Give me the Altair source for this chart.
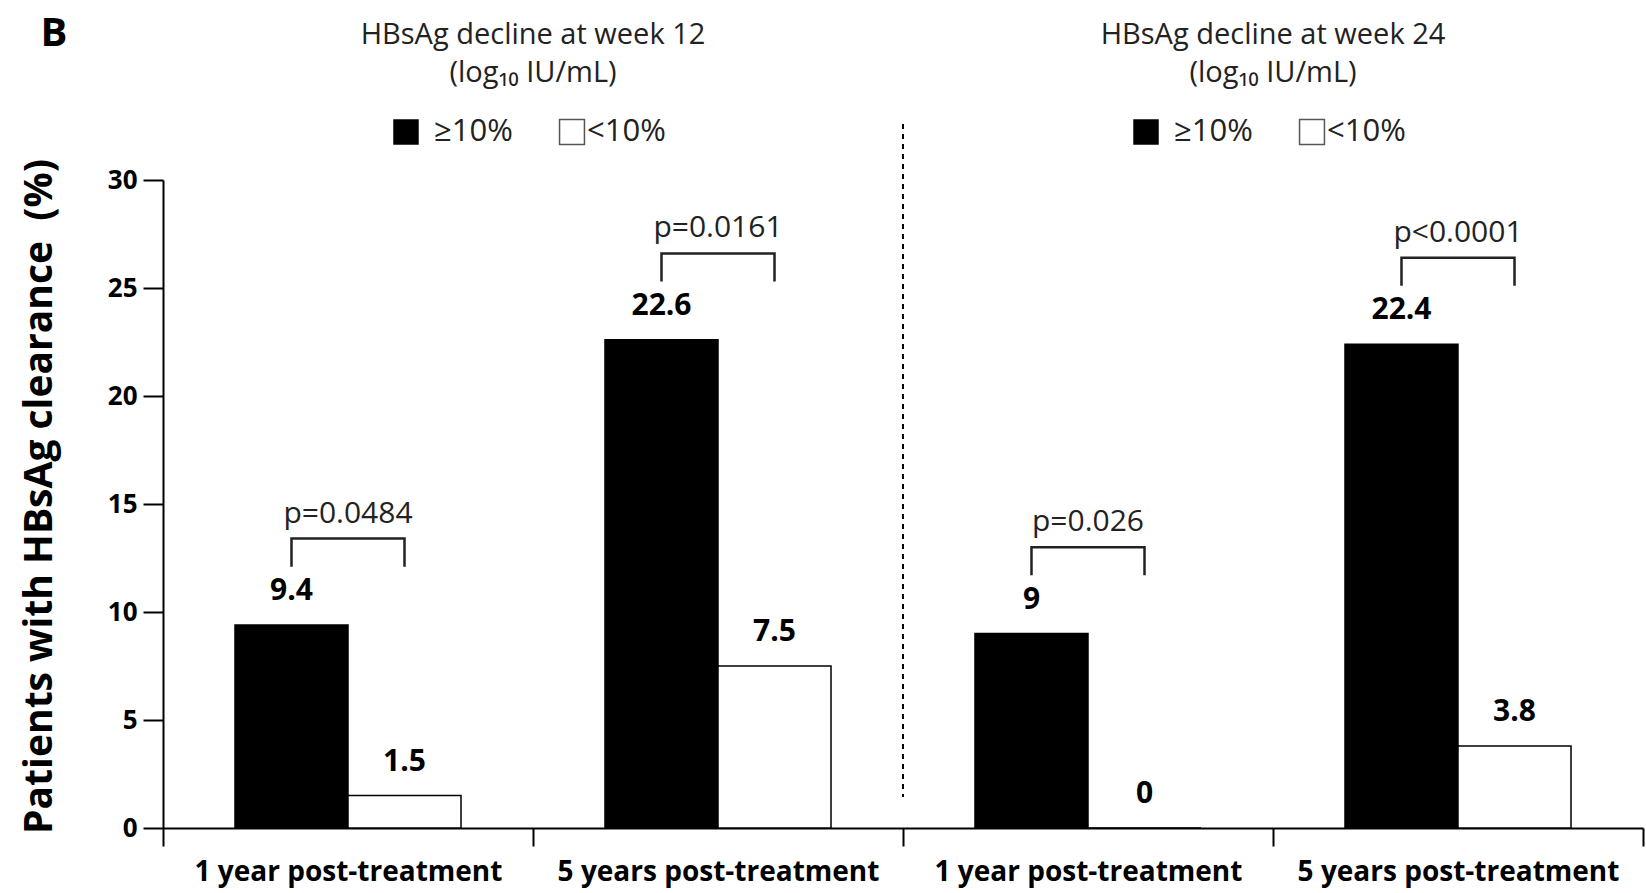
import altair as alt
import pandas as pd

# Patients with HBsAg clearance (%) by on-treatment HBsAg decline
panel_letter = "B"
weeks = ["12", "12", "24", "24"]
periods = [
    "1 year post-treatment",
    "5 years post-treatment",
    "1 year post-treatment",
    "5 years post-treatment",
]
high_pct = [9.4, 22.6, 9, 22.4]   # decline >= 10%
low_pct = [1.5, 7.5, 0, 3.8]      # decline < 10%
p_values = ["p=0.0484", "p=0.0161", "p=0.026", "p<0.0001"]
series = ["≥10%", "<10%"]
header_line1 = ["HBsAg decline at week 12", "HBsAg decline at week 24"]
header_line2 = "(log₁₀ IU/mL)"
y_ticks = [0, 5, 10, 15, 20, 25, 30]

FONT = "Open Sans"

# unique category keys: "<week>|<period>"
keys = [f"{w}|{p}" for w, p in zip(weeks, periods)]

bars = pd.DataFrame(
    [
        {"key": k, "series": s, "pct": v, "label": f"{v:g}"}
        for k, h, l in zip(keys, high_pct, low_pct)
        for s, v in zip(series, (h, l))
    ]
)

# significance brackets joining the two bars of each group
bracket_rows, ptext_rows = [], []
for k, h, l, p in zip(keys, high_pct, low_pct, p_values):
    top = max(h, l) + 4.0
    leg = max(h, l) + 2.7
    pts = [(series[0], leg), (series[0], top), (series[1], top), (series[1], leg)]
    for i, (s, yv) in enumerate(pts):
        bracket_rows.append({"key": k, "series": s, "y": yv, "step": i})
    ptext_rows.append({"key": k, "p": p, "top": top})
brackets = pd.DataFrame(bracket_rows)
ptexts = pd.DataFrame(ptext_rows)

# headers sit on the boundary between the two groups of each week
header_keys = [k for k, p in zip(keys, periods) if p.startswith("5")]
headers = pd.DataFrame(
    {"key": header_keys, "line1": header_line1, "line2": [header_line2] * len(header_keys)}
)
divider = pd.DataFrame({"key": [keys[2]]})

x_scale = alt.Scale(domain=keys, paddingInner=0, paddingOuter=0)
xoff_scale = alt.Scale(domain=series, paddingInner=0, paddingOuter=0.637)

x_axis = alt.Axis(
    title=None,
    labelExpr="split(datum.label, '|')[1]",
    labelAngle=0,
    labelLimit=600,
    labelFont=FONT,
    labelFontSize=28,
    labelFontWeight="bold",
    labelColor="black",
    labelPadding=12,
    tickBand="extent",
    tickSize=18,
    tickWidth=2,
    tickColor="black",
    domainWidth=2,
    domainColor="black",
)


def xk(**kw):
    return alt.X("key:N", scale=x_scale, sort=keys, axis=x_axis, **kw)


bar_layer = alt.Chart(bars).mark_bar(stroke="black", strokeWidth=1.5).encode(
    x=xk(),
    xOffset=alt.XOffset("series:N", scale=xoff_scale, sort=series),
    y=alt.Y(
        "pct:Q",
        scale=alt.Scale(domain=[0, 30], nice=False, zero=True),
        axis=alt.Axis(
            values=y_ticks,
            grid=False,
            tickSize=20,
            tickWidth=2,
            tickColor="black",
            domainWidth=2,
            domainColor="black",
            labelFont=FONT,
            labelFontSize=26,
            labelFontWeight="bold",
            labelColor="black",
            labelPadding=6,
            title="Patients with HBsAg clearance\u00a0 (%)",
            titleFont=FONT,
            titleFontSize=39,
            titleFontWeight="bold",
            titleColor="black",
            titleX=-124,
            titleY=316,
            titleAlign="center",
            titleBaseline="middle",
        ),
    ),
    fill=alt.Fill(
        "series:N", scale=alt.Scale(domain=series, range=["black", "white"]), legend=None
    ),
)

value_labels = alt.Chart(bars).mark_text(
    font=FONT, fontSize=30, fontWeight="bold", baseline="alphabetic", dy=-25, color="black"
).encode(
    x=xk(),
    xOffset=alt.XOffset("series:N", scale=xoff_scale, sort=series),
    y=alt.Y("pct:Q"),
    text="label:N",
)

bracket_lines = alt.Chart(brackets).mark_line(color="#222222", strokeWidth=2.5).encode(
    x=xk(),
    xOffset=alt.XOffset("series:N", scale=xoff_scale, sort=series),
    y=alt.Y("y:Q"),
    detail="key:N",
    order="step:Q",
)

p_labels = alt.Chart(ptexts).mark_text(
    font=FONT, fontSize=30, baseline="alphabetic", dy=-16, color="#222222"
).encode(
    x=xk(),
    y=alt.Y("top:Q"),
    text="p:N",
)

divider_rule = alt.Chart(divider).mark_rule(
    color="black", strokeWidth=2, strokeDash=[5, 5]
).encode(
    x=xk(bandPosition=0),
    y=alt.value(-56),
    y2=alt.value(617),
)

hx = xk(bandPosition=0)
head1 = alt.Chart(headers).mark_text(
    font=FONT, fontSize=29, baseline="middle", color="#222222"
).encode(x=hx, y=alt.value(-145), text="line1:N")
head2 = alt.Chart(headers).mark_text(
    font=FONT, fontSize=29, baseline="middle", color="#222222"
).encode(x=hx, y=alt.value(-107), text="line2:N")

leg_black = alt.Chart(headers).mark_point(
    shape="square", filled=True, size=650, fill="black", stroke="black",
    strokeWidth=0, opacity=1, xOffset=-127,
).encode(x=hx, y=alt.value(-48))
leg_white = alt.Chart(headers).mark_point(
    shape="square", filled=True, size=620, fill="white", stroke="#555555",
    strokeWidth=1.5, opacity=1, xOffset=39,
).encode(x=hx, y=alt.value(-48))
leg_text_hi = alt.Chart(headers).mark_text(
    font=FONT, fontSize=31, align="left", baseline="middle", dx=-99, color="#222222"
).encode(x=hx, y=alt.value(-48), text=alt.value(series[0]))
leg_text_lo = alt.Chart(headers).mark_text(
    font=FONT, fontSize=31, align="left", baseline="middle", dx=54, color="#222222"
).encode(x=hx, y=alt.value(-48), text=alt.value(series[1]))

# panel letter in the top-left corner
letter = alt.Chart(pd.DataFrame({"t": [panel_letter]})).mark_text(
    font=FONT, fontSize=40, fontWeight="bold", align="center", baseline="alphabetic", color="black"
).encode(x=alt.value(-109), y=alt.value(-134), text="t:N")

chart = (
    alt.layer(
        bar_layer,
        value_labels,
        bracket_lines,
        p_labels,
        divider_rule,
        head1,
        head2,
        leg_black,
        leg_white,
        leg_text_hi,
        leg_text_lo,
        letter,
    )
    .properties(
        width=1480,
        height=648,
        autosize=alt.AutoSizeParams(type="none"),
        padding={"left": 163, "top": 180, "right": 3, "bottom": 65},
    )
    .configure_view(stroke=None)
)

chart.save("out.html", embed_options={"renderer": "svg", "actions": False})
